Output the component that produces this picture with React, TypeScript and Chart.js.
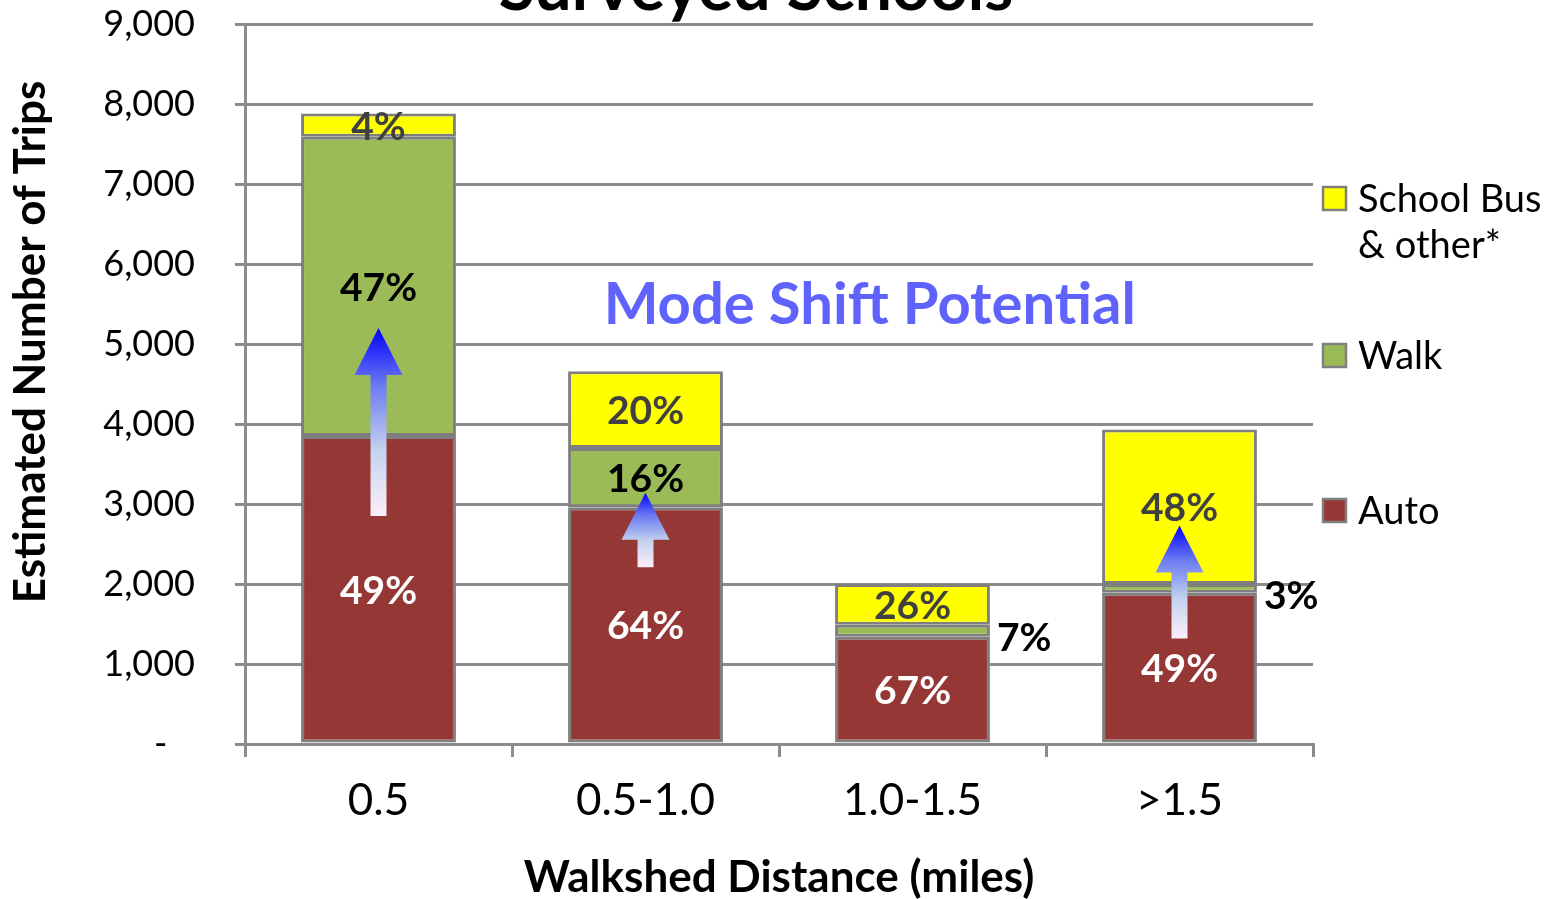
import React, { useEffect, useRef } from "react";
import { Chart, registerables } from "chart.js";

Chart.register(...registerables);

const FONT = "Lato, 'DejaVu Sans', sans-serif";

const categories = ["0.5", "0.5-1.0", "1.0-1.5", ">1.5"];
const autoTrips = [3850, 2960, 1340, 1890];
const walkTrips = [3740, 740, 150, 110];
const busTrips = [290, 960, 510, 1930];
const autoPct = ["49%", "64%", "67%", "49%"];
const walkPct = ["47%", "16%", "7%", "3%"];
const busPct = ["4%", "20%", "26%", "48%"];
const yTickLabels = ["-   ", "1,000", "2,000", "3,000", "4,000", "5,000", "6,000", "7,000", "8,000", "9,000"];
const arrowCategory = [0, 1, 3];
const arrowFrom = [2850, 2210, 1320];
const arrowTo = [5200, 3140, 2730];
const legendNames = [["School Bus", "& other*"], ["Walk"], ["Auto"]];
const titleText = "Surveyed Schools";
const yTitleText = "Estimated Number of Trips";
const noteText = "Mode Shift Potential";
const noteCategory = 1.84;
const noteValue = 5490;

const AUTO_COLOR = "#953735";
const WALK_COLOR = "#9BBB59";
const BUS_COLOR = "#FFFF00";
const BORDER = "#7F7F7F";
const GRID = "#8C8C8C";

const pctLabels = [autoPct, walkPct, busPct];
const labelColors = ["#FFFFFF", "#000000", "#404040"];

const overlayPlugin = {
  id: "overlay",
  afterDatasetsDraw(chart: any) {
    const ctx = chart.ctx;
    const xs = chart.scales.x;
    const ys = chart.scales.y;
    ctx.save();
    // arrows
    arrowCategory.forEach((c, i) => {
      const x = xs.getPixelForValue(c);
      const yb = ys.getPixelForValue(arrowFrom[i]);
      const yt = ys.getPixelForValue(arrowTo[i]);
      const headLen = 47;
      const headHalf = 24;
      const shaftHalf = 8;
      const g = ctx.createLinearGradient(0, yt, 0, yb);
      g.addColorStop(0, "#0000FF");
      g.addColorStop(0.3, "#6A78F2");
      g.addColorStop(0.65, "#C3D3EE");
      g.addColorStop(1, "#FCEEFA");
      ctx.fillStyle = g;
      ctx.beginPath();
      ctx.moveTo(x, yt);
      ctx.lineTo(x + headHalf, yt + headLen);
      ctx.lineTo(x + shaftHalf, yt + headLen);
      ctx.lineTo(x + shaftHalf, yb);
      ctx.lineTo(x - shaftHalf, yb);
      ctx.lineTo(x - shaftHalf, yt + headLen);
      ctx.lineTo(x - headHalf, yt + headLen);
      ctx.closePath();
      ctx.fill();
    });
    // segment labels
    ctx.font = `bold 39px ${FONT}`;
    ctx.textBaseline = "middle";
    chart.data.datasets.forEach((ds: any, di: number) => {
      const meta = chart.getDatasetMeta(di);
      meta.data.forEach((el: any, i: number) => {
        const { x, y, base, width } = el.getProps(["x", "y", "base", "width"], true);
        const h = Math.abs(base - y);
        const label = pctLabels[di][i];
        if (h < 20) {
          ctx.textAlign = "left";
          ctx.fillStyle = "#000000";
          ctx.fillText(label, x + width / 2 + 7, (y + base) / 2 + 8);
        } else {
          ctx.textAlign = "center";
          ctx.fillStyle = labelColors[di];
          ctx.fillText(label, x, (y + base) / 2 + 2);
        }
      });
    });
    // note text
    ctx.font = `bold 58px ${FONT}`;
    ctx.fillStyle = "#5F63FB";
    ctx.textAlign = "center";
    ctx.fillText(noteText, xs.getPixelForValue(noteCategory), ys.getPixelForValue(noteValue));
    ctx.restore();
  },
  afterDraw(chart: any) {
    const ctx = chart.ctx;
    const area = chart.chartArea;
    ctx.save();
    // title (partly clipped at top)
    ctx.font = `bold 66px ${FONT}`;
    ctx.fillStyle = "#000000";
    ctx.textAlign = "center";
    ctx.textBaseline = "alphabetic";
    ctx.fillText(titleText, 756, 10);
    // y-axis title
    ctx.save();
    ctx.translate(31, 342);
    ctx.rotate(-Math.PI / 2);
    ctx.font = `bold 44px ${FONT}`;
    ctx.textBaseline = "middle";
    ctx.fillText(yTitleText, 0, 0);
    ctx.restore();
    // legend
    const fills = [BUS_COLOR, WALK_COLOR, AUTO_COLOR];
    const centers = [198, 355, 510];
    ctx.font = `38px ${FONT}`;
    ctx.textAlign = "left";
    ctx.textBaseline = "middle";
    legendNames.forEach((lines, i) => {
      const bx = area.right + 10;
      const cy = centers[i];
      ctx.fillStyle = fills[i];
      ctx.fillRect(bx, cy - 11, 23, 23);
      ctx.strokeStyle = BORDER;
      ctx.lineWidth = 2.5;
      ctx.strokeRect(bx, cy - 11, 23, 23);
      ctx.fillStyle = "#000000";
      lines.forEach((t, li) => {
        ctx.fillText(t, area.right + 45, cy + 2 + li * 46);
      });
    });
    ctx.restore();
  },
};

export default function App() {
  const ref = useRef<HTMLCanvasElement | null>(null);
  useEffect(() => {
    if (!ref.current) return;
    const chart = new Chart(ref.current, {
      type: "bar",
      data: {
        labels: categories,
        datasets: [
          { label: "Auto", data: autoTrips, backgroundColor: AUTO_COLOR, borderColor: BORDER, borderWidth: 3, borderSkipped: false },
          { label: "Walk", data: walkTrips, backgroundColor: WALK_COLOR, borderColor: BORDER, borderWidth: 3, borderSkipped: false },
          { label: "School Bus & other*", data: busTrips, backgroundColor: BUS_COLOR, borderColor: BORDER, borderWidth: 3, borderSkipped: false },
        ],
      },
      options: {
        animation: false,
        responsive: true,
        maintainAspectRatio: false,
        layout: { padding: { top: 24, right: 242, bottom: 0, left: 0 } },
        plugins: { legend: { display: false }, tooltip: { enabled: false }, title: { display: false } },
        datasets: { bar: { categoryPercentage: 1, barPercentage: 0.58 } },
        scales: {
          x: {
            stacked: true,
            offset: true,
            grid: { display: true, drawOnChartArea: false, drawTicks: true, tickLength: 13, color: GRID, lineWidth: 3, offset: true },
            border: { display: true, color: GRID, width: 3 },
            ticks: { color: "#000000", font: { family: FONT, size: 44 }, padding: 17, maxRotation: 0 },
            title: { display: true, text: "Walkshed Distance (miles)", color: "#000000", font: { family: FONT, size: 44, weight: "bold" }, padding: { top: 0, bottom: -5 } },
            afterFit: (s: any) => { s.height = 155; s.paddingLeft = 0; s.paddingRight = 0; },
          },
          y: {
            stacked: true,
            min: 0,
            max: 9000,
            ticks: {
              stepSize: 1000,
              color: "#000000",
              font: { family: FONT, size: 36 },
              padding: 40,
              callback: (_v: any, i: number) => yTickLabels[i],
            },
            grid: { color: GRID, lineWidth: 3, tickLength: 10, drawTicks: true },
            border: { display: true, color: GRID, width: 3 },
            title: { display: false },
            afterFit: (s: any) => { s.width = 245; s.paddingTop = 0; s.paddingBottom = 0; },
          },
        },
      },
      plugins: [overlayPlugin],
    });
    return () => chart.destroy();
  }, []);
  return (
    <div style={{ position: "fixed", left: 0, top: 0, width: 1555, height: 899, background: "#ffffff" }}>
      <canvas ref={ref} />
    </div>
  );
}
